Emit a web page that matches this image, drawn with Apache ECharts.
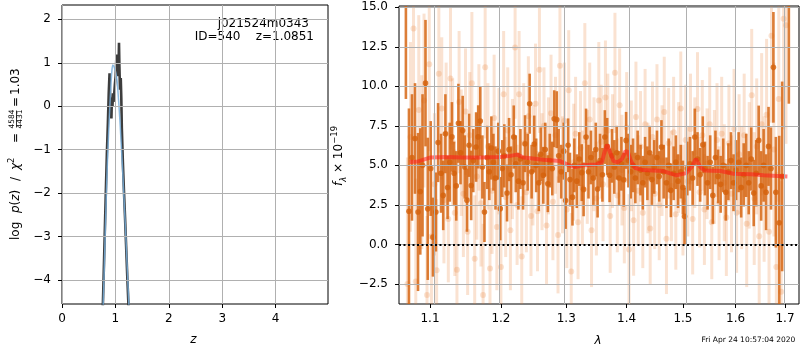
<!DOCTYPE html>
<html><head><meta charset="utf-8">
<script src="https://cdn.jsdelivr.net/npm/echarts@6/dist/echarts.min.js"></script>
<style>html,body{margin:0;padding:0;background:#fff}#c{width:800px;height:350px}</style>
</head><body><div id="c"></div>
<script>
// ---------- p(z) panel ----------
const pzZ = [0.76,0.78,0.80,0.82,0.84,0.86,0.875,0.89,0.90,0.91,0.925,0.935,0.945,0.955,0.965,0.975,0.99,1.005,1.02,1.03,1.04,1.05,1.06,1.067,1.075,1.086,1.10,1.11,1.12,1.14,1.16,1.18,1.20,1.22,1.24,1.26];
const pzLogP = [-4.8,-3.9,-2.95,-2.0,-1.1,-0.35,0.3,0.76,0.2,-0.1,-0.28,0.2,0.0,0.3,0.1,0.25,0.5,0.7,1.19,0.9,0.69,1.1,1.0,1.46,0.9,0.38,0.65,0.2,-0.5,-1.3,-1.95,-2.55,-3.2,-3.85,-4.45,-5.0];
const pzFitZ = [0.77,0.79,0.81,0.83,0.85,0.87,0.89,0.91,0.93,0.95,0.97,0.99,1.01,1.03,1.05,1.07,1.09,1.11,1.13,1.15,1.17,1.19,1.21,1.23,1.25,1.26];
const pzFitLogP = [-4.6,-3.8,-2.9,-2.05,-1.3,-0.7,-0.15,0.35,0.75,0.95,0.92,0.85,0.75,0.6,0.3,-0.05,-0.45,-0.9,-1.35,-1.85,-2.35,-2.85,-3.4,-3.95,-4.5,-4.8];
const pzXTicks = [0,1,2,3,4];
const pzYTicks = [-4,-3,-2,-1,0,1,2];
const pzXRange = [0, 4.98];
const pzYRange = [-4.55, 2.33];
const titleLines = ['j021524m0343', 'ID=540    z=1.0851'];

// ---------- spectrum panel ----------
const specDarkWave = [1.068,1.072,1.076,1.080,1.084,1.087,1.090,1.094,1.097,1.101,1.104,1.108,1.111,1.115,1.118,1.121,1.124,1.127,1.130,1.133,1.136,1.139,1.142,1.145,1.148,1.151,1.154,1.157,1.160,1.164,1.167,1.170,1.173,1.176,1.180,1.183,1.186,1.189,1.192,1.196,1.199,1.202,1.205,1.209,1.212,1.215,1.219,1.222,1.226,1.229,1.233,1.236,1.240,1.243,1.246,1.250,1.253,1.257,1.260,1.264,1.267,1.271,1.274,1.278,1.281,1.285,1.288,1.292,1.296,1.299,1.303,1.306,1.310,1.313,1.317,1.321,1.325,1.328,1.332,1.336,1.340,1.344,1.348,1.351,1.355,1.359,1.363,1.367,1.371,1.375,1.379,1.383,1.387,1.391,1.395,1.399,1.403,1.407,1.411,1.415,1.419,1.424,1.428,1.432,1.436,1.440,1.444,1.448,1.453,1.457,1.461,1.465,1.470,1.474,1.478,1.483,1.487,1.491,1.496,1.500,1.503,1.508,1.513,1.518,1.522,1.527,1.532,1.537,1.541,1.546,1.551,1.556,1.561,1.566,1.571,1.576,1.581,1.586,1.591,1.596,1.601,1.606,1.611,1.616,1.621,1.626,1.631,1.636,1.641,1.646,1.651,1.656,1.661,1.666,1.671,1.676,1.681,1.688,1.694,1.708];
const specDarkFlux = [15.6,2.1,5.5,6.7,2.05,3.35,5.0,10.2,2.25,4.8,0.46,2.05,6.44,4.5,3.1,7.0,3.6,5.2,6.8,4.5,3.7,7.66,5.8,7.2,4.9,2.8,6.27,3.73,5.3,6.16,6.8,7.8,4.9,2.05,5.5,4.6,6.1,5.2,4.2,5.9,2.26,4.8,5.6,3.25,6.0,4.4,6.79,5.1,4.0,5.4,3.9,6.37,5.2,8.9,4.6,6.35,5.0,3.9,5.7,4.37,6.0,3.84,5.3,4.8,7.95,7.89,5.6,4.6,5.9,2.78,6.27,4.1,2.99,5.0,4.0,5.4,4.54,3.48,6.79,4.6,5.5,4.2,6.0,3.5,5.3,4.4,6.79,6.2,4.37,5.6,4.9,5.8,4.2,5.1,4.09,6.58,5.3,4.6,5.0,4.2,5.5,4.7,3.9,5.2,4.5,5.8,4.1,4.9,5.5,4.3,6.16,4.6,3.9,5.0,3.42,4.5,5.2,4.0,4.6,3.6,1.77,4.8,5.1,4.2,6.79,5.4,4.4,6.3,4.8,3.9,5.2,3.1,5.5,4.3,3.8,5.0,3.3,4.6,5.3,3.9,4.7,5.2,3.6,4.4,5.0,3.9,5.4,3.25,4.5,6.58,3.7,5.0,3.3,6.2,4.8,11.2,3.3,1.37,4.3,15.5];
const specDarkErr = [6.4,6.5,4.0,3.5,5.0,4.0,4.5,4.0,4.5,3.0,2.5,2.5,2.5,2.5,2.2,2.5,2.0,2.5,2.2,2.0,2.2,2.5,2.0,2.2,2.0,2.0,2.0,2.2,2.0,2.2,2.0,2.2,2.0,1.9,2.0,1.8,2.0,1.8,2.0,1.8,2.0,1.8,2.0,1.8,2.0,1.8,2.0,1.8,1.8,1.9,1.7,1.8,1.8,1.9,1.7,1.8,1.7,1.8,1.7,1.8,1.7,1.8,1.7,1.7,1.8,1.8,1.7,1.7,1.8,1.8,1.7,1.7,1.8,1.7,1.7,1.7,1.8,1.7,1.8,1.7,1.7,1.7,1.7,1.8,1.7,1.7,1.7,1.8,1.7,1.7,1.7,1.7,1.7,1.7,1.7,1.8,1.7,1.7,1.7,1.6,1.7,1.6,1.7,1.6,1.7,1.7,1.6,1.7,1.7,1.6,1.7,1.7,1.6,1.7,1.7,1.7,1.7,1.7,1.7,1.7,1.8,1.7,1.7,1.7,1.8,1.7,1.7,1.8,1.7,1.7,1.7,1.8,1.7,1.7,1.8,1.7,1.8,1.8,1.8,1.8,1.9,1.9,1.9,2.0,2.0,2.0,2.0,2.1,2.1,2.2,2.2,2.3,2.4,2.5,2.6,3.5,3.5,5.5,6.0,6.6];

const specLightWave = [1.070,1.074,1.078,1.081,1.085,1.089,1.092,1.096,1.099,1.102,1.106,1.109,1.112,1.116,1.119,1.122,1.125,1.128,1.131,1.134,1.137,1.140,1.143,1.146,1.149,1.152,1.155,1.158,1.162,1.165,1.168,1.171,1.174,1.177,1.181,1.184,1.187,1.190,1.194,1.197,1.200,1.204,1.207,1.210,1.214,1.217,1.221,1.224,1.227,1.231,1.234,1.238,1.241,1.245,1.248,1.252,1.255,1.258,1.262,1.265,1.269,1.272,1.276,1.279,1.283,1.287,1.290,1.294,1.297,1.301,1.304,1.308,1.312,1.315,1.319,1.323,1.326,1.330,1.334,1.338,1.341,1.345,1.349,1.353,1.357,1.360,1.364,1.368,1.372,1.376,1.380,1.384,1.388,1.392,1.396,1.400,1.404,1.408,1.412,1.416,1.420,1.424,1.428,1.432,1.437,1.441,1.445,1.449,1.453,1.457,1.462,1.466,1.470,1.474,1.479,1.483,1.487,1.492,1.496,1.500,1.505,1.509,1.514,1.518,1.522,1.527,1.531,1.536,1.540,1.545,1.550,1.554,1.559,1.564,1.568,1.573,1.578,1.582,1.587,1.592,1.597,1.602,1.607,1.612,1.617,1.622,1.627,1.632,1.637,1.642,1.647,1.652,1.657,1.662,1.667,1.672,1.677,1.682,1.687,1.692,1.697,1.702];
const specLightFlux = [-2.5,6.8,13.65,-2.34,8.5,5.2,9.1,-3.2,11.4,0.5,3.8,-1.64,10.8,8.6,2.8,7.0,1.6,10.5,6.5,2.0,-1.6,9.0,5.8,3.2,8.4,0.8,6.9,10.2,-0.9,4.3,7.4,2.6,-3.2,11.2,6.2,-1.52,3.4,8.0,1.1,5.9,-1.43,9.5,3.0,7.2,0.9,5.4,12.45,2.5,9.5,-0.76,6.4,3.3,8.1,1.8,5.0,8.9,2.1,11.05,4.6,7.5,1.2,5.6,8.3,2.7,6.9,0.6,11.3,4.4,7.8,2.2,9.75,-1.71,5.2,7.0,1.4,6.1,3.6,10.2,4.9,7.9,0.9,5.7,2.9,9.1,6.5,3.8,9.3,7.2,1.8,5.9,10.85,3.1,8.8,4.7,2.3,7.4,-0.32,5.6,1.52,8.06,3.4,6.2,2.0,7.6,4.2,1.0,6.8,3.2,7.9,2.5,5.3,8.37,0.36,6.4,3.7,7.1,1.9,5.5,8.6,2.8,6.6,4.0,7.3,1.6,5.8,8.56,3.3,6.9,2.2,5.1,7.6,1.4,4.9,6.6,2.6,7.0,3.9,1.7,6.4,3.2,7.3,2.0,5.7,3.6,6.9,1.3,5.0,9.43,2.9,6.2,0.51,7.6,3.5,8.2,0.8,13.2,6.0,-1.43,9.2,-3.0,14.28,13.86];
const specLightErr = [8.0,6.0,7.0,6.5,6.0,5.5,5.5,5.0,5.5,4.5,4.5,4.5,5.0,4.5,4.0,4.5,4.0,4.5,4.0,4.0,4.0,4.5,4.0,4.0,4.0,4.0,4.0,4.5,4.0,4.0,4.0,4.0,4.5,4.5,4.0,4.0,4.0,4.0,4.0,4.0,4.0,4.0,3.8,4.0,3.8,3.8,4.5,3.8,4.0,3.8,3.8,3.8,3.8,3.8,3.8,3.8,3.8,4.0,3.7,3.7,3.7,3.7,3.7,3.7,3.7,3.7,4.0,3.7,3.7,3.7,3.8,3.7,3.7,3.6,3.6,3.6,3.6,3.8,3.6,3.6,3.6,3.6,3.6,3.7,3.6,3.6,3.6,3.6,3.6,3.6,3.8,3.6,3.6,3.5,3.5,3.5,3.5,3.5,3.5,3.5,3.5,3.5,3.5,3.5,3.5,3.5,3.5,3.5,3.5,3.5,3.5,3.5,3.5,3.5,3.5,3.5,3.5,3.5,3.6,3.5,3.5,3.5,3.5,3.5,3.5,3.6,3.5,3.5,3.5,3.5,3.6,3.6,3.6,3.6,3.6,3.6,3.7,3.7,3.7,3.7,3.8,3.8,3.8,3.9,3.9,4.0,4.0,4.2,4.2,4.3,4.4,4.5,4.6,4.8,5.0,5.5,5.5,6.0,6.5,7.0,7.0,7.5];

const modelWave = [1.073,1.084,1.100,1.123,1.146,1.170,1.199,1.214,1.224,1.234,1.264,1.290,1.305,1.314,1.327,1.349,1.358,1.363,1.367,1.372,1.378,1.385,1.392,1.398,1.402,1.407,1.414,1.428,1.464,1.488,1.506,1.516,1.524,1.532,1.540,1.571,1.596,1.630,1.656,1.705];
const modelFlux = [5.21,5.25,5.49,5.53,5.49,5.49,5.53,5.6,5.68,5.49,5.36,5.27,5.0,4.89,5.0,5.06,5.2,5.9,6.3,5.8,5.25,5.2,5.4,5.9,5.85,5.3,4.85,4.7,4.64,4.37,4.51,4.9,5.4,4.9,4.68,4.64,4.47,4.43,4.37,4.3];

const specXTicks = [1.1,1.2,1.3,1.4,1.5,1.6,1.7];
const specYTicks = [-2.5,0,2.5,5,7.5,10,12.5,15];
const specXRange = [1.059, 1.7294];
const specYRange = [-3.77, 15.08];
const stamp = 'Fri Apr 24 10:57:04 2020';

// ---------- build ----------
const FONT = 'DejaVu Sans';
const L = Math.log;
const minus = s => String(s).replace('-', '\u2212');

const darkData = specDarkWave.map((w, i) => [L(w), specDarkFlux[i], specDarkErr[i]]);
const lightData = specLightWave.map((w, i) => [L(w), specLightFlux[i], specLightErr[i]]);
const modelData = modelWave.map((w, i) => [L(w), modelFlux[i]]);

function errRender(color, barW, r) {
  return function (params, api) {
    const x = api.value(0), y = api.value(1), e = api.value(2);
    const cs = params.coordSys;
    const p = api.coord([x, y]);
    let t = api.coord([x, y + e])[1], b = api.coord([x, y - e])[1];
    const top = cs.y, bot = cs.y + cs.height;
    t = Math.max(t, top); b = Math.min(b, bot);
    const ch = [];
    if (b > t) ch.push({type: 'line', shape: {x1: p[0], y1: t, x2: p[0], y2: b}, style: {stroke: color, lineWidth: barW}});
    if (p[1] >= top - 1 && p[1] <= bot + 1) ch.push({type: 'circle', shape: {cx: p[0], cy: p[1], r: r}, style: {fill: color}});
    return {type: 'group', children: ch};
  };
}

function axis(gridIndex, range, ticks, fmt, margin) {
  return {
    type: 'value', gridIndex, min: range[0], max: range[1],
    axisLine: {show: false, onZero: false},
    axisTick: {show: true, inside: false, length: 4, lineStyle: {color: '#000', width: 1}, customValues: ticks},
    axisLabel: {show: true, customValues: ticks, formatter: fmt, color: '#000', fontFamily: FONT, fontSize: 12, margin: margin},
    splitLine: {show: false}
  };
}

const gridLine = {color: '#b0b0b0', width: 1, type: 'solid'};
function gridSeries(xi, yi, xs, ys) {
  return {
    type: 'line', xAxisIndex: xi, yAxisIndex: yi, data: [], z: 1, silent: true,
    markLine: {silent: true, symbol: ['none', 'none'], label: {show: false}, lineStyle: gridLine, animation: false,
      emphasis: {disabled: true},
      data: xs.map(v => ({xAxis: v})).concat(ys.map(v => ({yAxis: v})))}
  };
}

const rich = {
  n: {fontFamily: FONT, fontSize: 12, lineHeight: 18, verticalAlign: 'middle', color: '#000'},
  i: {fontFamily: FONT, fontSize: 12, fontStyle: 'italic', lineHeight: 18, verticalAlign: 'middle', color: '#000'},
  sup: {fontFamily: FONT, fontSize: 8.5, lineHeight: 18, verticalAlign: 'top', color: '#000'},
  sub: {fontFamily: FONT, fontSize: 8.5, fontStyle: 'italic', lineHeight: 18, verticalAlign: 'bottom', color: '#000'}
};
const txt = (t, x, y, opt) => ({type: 'text', x, y, style: Object.assign({text: t, font: `12px "${FONT}"`, fill: '#000', align: 'left', verticalAlign: 'middle'}, opt || {})});

const option = {
  animation: false,
  backgroundColor: '#fff',
  grid: [
    {left: 62, top: 5, width: 266, height: 299, show: true, borderColor: '#000', borderWidth: 1, backgroundColor: 'transparent'},
    {left: 399, top: 6, width: 400, height: 298, show: true, borderColor: '#000', borderWidth: 1, backgroundColor: 'transparent'}
  ],
  xAxis: [
    axis(0, pzXRange, pzXTicks, v => minus(v), 9),
    axis(1, [L(specXRange[0]), L(specXRange[1])], specXTicks.map(L), v => Math.exp(v).toFixed(1), 9)
  ],
  yAxis: [
    axis(0, pzYRange, pzYTicks, v => minus(v), 11),
    axis(1, specYRange, specYTicks, v => minus(Number(v).toFixed(1)), 11)
  ],
  series: [
    gridSeries(0, 0, pzXTicks, pzYTicks),
    {type: 'line', xAxisIndex: 0, yAxisIndex: 0, z: 2, showSymbol: false, symbol: 'none', clip: true,
      data: pzZ.map((z, i) => [z, pzLogP[i]]), lineStyle: {color: 'rgba(45,45,45,0.92)', width: 2.6}},
    {type: 'line', xAxisIndex: 0, yAxisIndex: 0, z: 3, showSymbol: false, symbol: 'none', clip: true, smooth: 0.3,
      data: pzFitZ.map((z, i) => [z, pzFitLogP[i]]), lineStyle: {color: 'rgba(120,175,220,0.85)', width: 1.5}},
    gridSeries(1, 1, specXTicks.map(L), specYTicks),
    {type: 'custom', xAxisIndex: 1, yAxisIndex: 1, z: 2, silent: true, encode: {x: 0, y: 1},
      renderItem: errRender('rgba(232,125,45,0.22)', 3, 3), data: lightData},
    {type: 'custom', xAxisIndex: 1, yAxisIndex: 1, z: 3, silent: true, encode: {x: 0, y: 1},
      renderItem: errRender('rgba(212,98,12,0.82)', 2.6, 2.8), data: darkData},
    {type: 'line', xAxisIndex: 1, yAxisIndex: 1, z: 4, showSymbol: false, symbol: 'none', clip: true,
      data: modelData, lineStyle: {color: 'rgba(255,25,25,0.55)', width: 4}},
    {type: 'line', xAxisIndex: 1, yAxisIndex: 1, data: [], z: 5, silent: true,
      markLine: {silent: true, symbol: ['none', 'none'], label: {show: false}, animation: false,
        lineStyle: {color: '#000', width: 2, type: [2, 2.5]}, data: [{yAxis: 0}]}}
  ],
  graphic: [
    txt(titleLines[0], 309, 23.5, {align: 'right'}),
    txt(titleLines[1], 314, 37, {align: 'right'}),
    {type: 'group', x: 16, y: 240, rotation: Math.PI / 2, children: [
      {type: 'text', x: 0, y: 0, style: {text: '{n|log}', rich, align: 'left', verticalAlign: 'middle'}},
      {type: 'text', x: 27, y: 0, style: {text: '{i|p}{n|(}{i|z}{n|)}', rich, align: 'left', verticalAlign: 'middle'}},
      {type: 'text', x: 59, y: 0, style: {text: '{n|/}', rich, align: 'left', verticalAlign: 'middle'}},
      {type: 'text', x: 70, y: 0, style: {text: '{i|χ}{sup|2}', rich, align: 'left', verticalAlign: 'middle'}},
      {type: 'text', x: 97, y: 0, style: {text: '{n|=}', rich, align: 'left', verticalAlign: 'middle'}},
      {type: 'text', x: 121, y: -4, style: {text: '4584', font: `7.5px "${FONT}"`, fill: '#000', align: 'center', verticalAlign: 'middle'}},
      {type: 'line', shape: {x1: 112.5, y1: 0.5, x2: 129.5, y2: 0.5}, style: {stroke: '#000', lineWidth: 0.8}},
      {type: 'text', x: 121, y: 4.5, style: {text: '4431', font: `7.5px "${FONT}"`, fill: '#000', align: 'center', verticalAlign: 'middle'}},
      {type: 'text', x: 133, y: 0, style: {text: '{n|=}', rich, align: 'left', verticalAlign: 'middle'}},
      {type: 'text', x: 145, y: 0, style: {text: '{n|1.03}', rich, align: 'left', verticalAlign: 'middle'}}
    ]},
    {type: 'group', x: 339, y: 156, rotation: Math.PI / 2, children: [
      {type: 'text', x: 0, y: 0, style: {text: '{i|f}{sub|λ}{n| × 10}{sup|−19}', rich, align: 'center', verticalAlign: 'middle'}}
    ]},
    txt('z', 193.5, 340, {align: 'center', font: `italic 12px "${FONT}"`}),
    txt('λ', 598, 341, {align: 'center', font: `italic 12px "${FONT}"`}),
    txt(stamp, 701.5, 340, {font: `7.5px "${FONT}"`})
  ]
};

const chart = echarts.init(document.getElementById('c'), null, {renderer: 'canvas', width: 800, height: 350});
chart.setOption(option);
</script>
</body></html>
